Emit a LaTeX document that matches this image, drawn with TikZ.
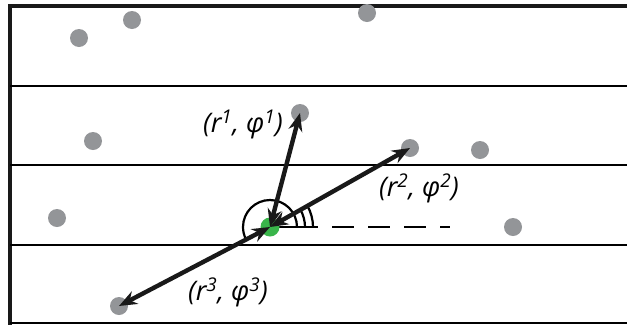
\documentclass[tikz,border=0pt]{standalone}
\usepackage{fontspec}
\setmainfont{Open Sans}
\usepackage{tikz}
\usetikzlibrary{arrows.meta,calc}
\definecolor{dotgray}{HTML}{939598}
\definecolor{dotgreen}{HTML}{39B54A}

\begin{document}
\begin{tikzpicture}[
  x=1pt, y=-1pt,
  dot/.style={circle, fill=dotgray, inner sep=0pt, minimum size=18pt},
  origin/.style={circle, fill=dotgreen, inner sep=0pt, minimum size=19pt},
  lane/.style={line width=2.6pt},
  frame/.style={line width=4.5pt, black!90},
  vec/.style={{Stealth[length=18pt,width=14pt]}-{Stealth[length=18pt,width=14pt]},
              line width=4.4pt, black!90},
  ang/.style={line width=2.2pt},
  lbl/.style={font=\fontsize{27}{32}\selectfont\itshape, inner sep=0pt}
]
  \useasboundingbox (0,0) rectangle (627,325);
  % lanes
  \draw[frame] (8,6) -- (627,6);
  \draw[frame] (10,4) -- (10,325);
  \draw[lane] (10,86) -- (627,86);
  \draw[lane] (10,165) -- (627,165);
  \draw[lane] (10,245) -- (627,245);
  \draw[lane] (10,323) -- (627,323);
  % neighbours
  \node[dot] (n1) at (79,38) {};
  \node[dot] (n2) at (132,20) {};
  \node[dot] (n3) at (367,13) {};
  \node[dot] (n4) at (93,141) {};
  \node[dot] (n5) at (480,150) {};
  \node[dot] (n6) at (57,218) {};
  \node[dot] (n7) at (513,227) {};
  \node[dot] (p1) at (300,113) {};
  \node[dot] (p2) at (410,148) {};
  \node[dot] (p3) at (119,306) {};
  % reference direction
  \coordinate (ref) at (318,227);
  \coordinate (refend) at (450,227);
  \draw[ang] (270,227) -- (ref);
  \draw[lane, dash pattern=on 22pt off 14pt] ($(ref)+(14,0)$) -- (refend);
  % angles
  \draw[ang] (297,227) arc[start angle=0, end angle=-208, radius=27];
  \draw[ang] (305,227) arc[start angle=0, end angle=-30, radius=35];
  \draw[ang] (313,227) arc[start angle=0, end angle=-30, radius=43];
  \node[origin] (o) at (270,227) {};
  % vectors
  \draw[vec] (o.center) -- (p1.center);
  \draw[vec] (o.center) -- (p2.center);
  \draw[vec] (o.center) -- (p3.center);
  \node[lbl] (l1) at (243,124) {(r\textsuperscript{1}, φ\textsuperscript{1})};
  \node[lbl] (l2) at (419,188) {(r\textsuperscript{2}, φ\textsuperscript{2})};
  \node[lbl] (l3) at (228,292) {(r\textsuperscript{3}, φ\textsuperscript{3})};
\end{tikzpicture}
\end{document}
